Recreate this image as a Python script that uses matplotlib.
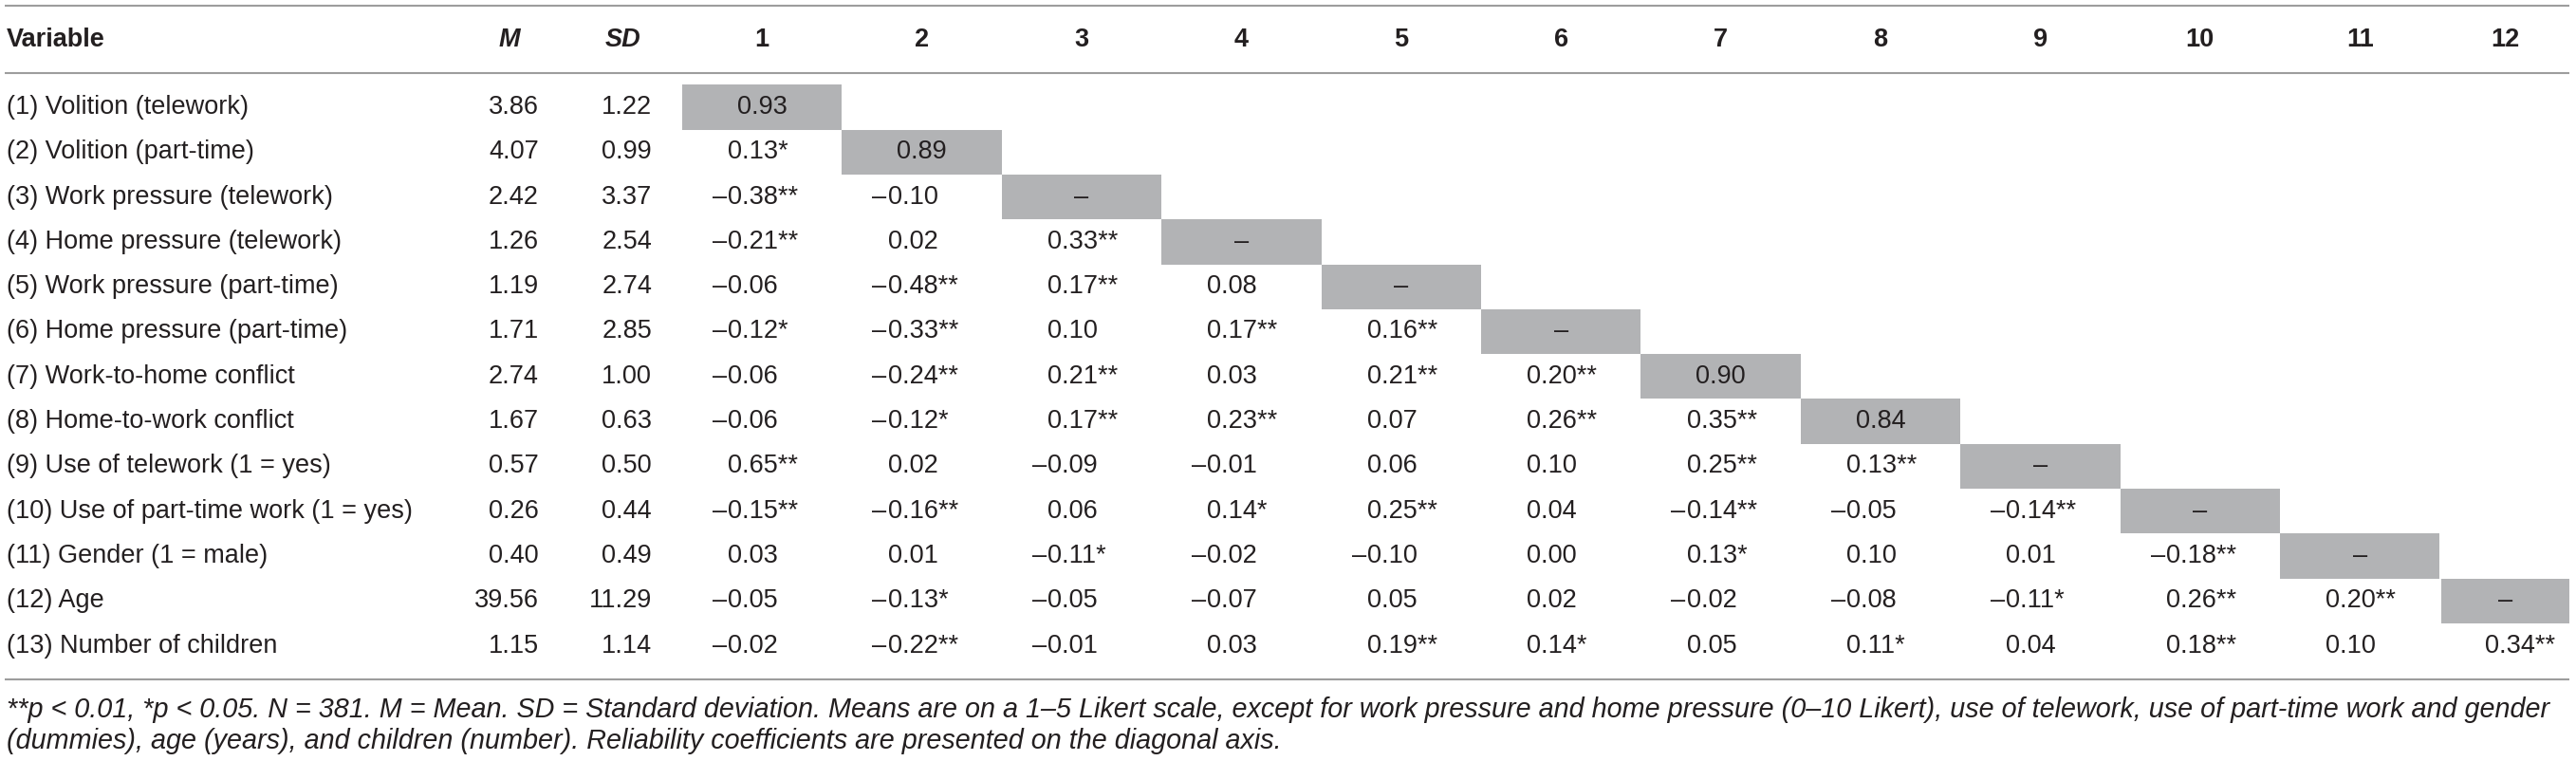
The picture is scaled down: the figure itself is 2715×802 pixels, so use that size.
import matplotlib
matplotlib.use("Agg")
import matplotlib.pyplot as plt
from matplotlib.patches import Rectangle

# ---------------- data ----------------
variables = [
    "(1) Volition (telework)",
    "(2) Volition (part-time)",
    "(3) Work pressure (telework)",
    "(4) Home pressure (telework)",
    "(5) Work pressure (part-time)",
    "(6) Home pressure (part-time)",
    "(7) Work-to-home conflict",
    "(8) Home-to-work conflict",
    "(9) Use of telework (1 = yes)",
    "(10) Use of part-time work (1 = yes)",
    "(11) Gender (1 = male)",
    "(12) Age",
    "(13) Number of children",
]
means = ["3.86", "4.07", "2.42", "1.26", "1.19", "1.71", "2.74", "1.67", "0.57", "0.26", "0.40", "39.56", "1.15"]
sds = ["1.22", "0.99", "3.37", "2.54", "2.74", "2.85", "1.00", "0.63", "0.50", "0.44", "0.49", "11.29", "1.14"]
col_labels = ["1", "2", "3", "4", "5", "6", "7", "8", "9", "10", "11", "12"]
reliability = [0.93, 0.89, None, None, None, None, 0.90, 0.84, None, None, None, None]

corr_lower = [
    [],
    [0.13],
    [-0.38, -0.10],
    [-0.21, 0.02, 0.33],
    [-0.06, -0.48, 0.17, 0.08],
    [-0.12, -0.33, 0.10, 0.17, 0.16],
    [-0.06, -0.24, 0.21, 0.03, 0.21, 0.20],
    [-0.06, -0.12, 0.17, 0.23, 0.07, 0.26, 0.35],
    [0.65, 0.02, -0.09, -0.01, 0.06, 0.10, 0.25, 0.13],
    [-0.15, -0.16, 0.06, 0.14, 0.25, 0.04, -0.14, -0.05, -0.14],
    [0.03, 0.01, -0.11, -0.02, -0.10, 0.00, 0.13, 0.10, 0.01, -0.18],
    [-0.05, -0.13, -0.05, -0.07, 0.05, 0.02, -0.02, -0.08, -0.11, 0.26, 0.20],
    [-0.02, -0.22, -0.01, 0.03, 0.19, 0.14, 0.05, 0.11, 0.04, 0.18, 0.10, 0.34],
]
sig_lower = [
    [],
    [1],
    [2, 0],
    [2, 0, 2],
    [0, 2, 2, 0],
    [1, 2, 0, 2, 2],
    [0, 2, 2, 0, 2, 2],
    [0, 1, 2, 2, 0, 2, 2],
    [2, 0, 0, 0, 0, 0, 2, 2],
    [2, 2, 0, 1, 2, 0, 2, 0, 2],
    [0, 0, 1, 0, 0, 0, 1, 0, 0, 2],
    [0, 1, 0, 0, 0, 0, 0, 0, 1, 2, 2],
    [0, 2, 0, 0, 2, 1, 0, 1, 0, 2, 0, 2],
]

note_lines = [
    "**p < 0.01, *p < 0.05. N = 381. M = Mean. SD = Standard deviation. Means are on a 1\u20135 Likert scale, "
    "except for work pressure and home pressure (0\u201310 Likert), use of telework, use of part-time work and gender",
    "(dummies), age (years), and children (number). Reliability coefficients are presented on the diagonal axis.",
]

# ---------------- layout (pixels) ----------------
W, H = 2715, 802
plt.rcParams["font.family"] = ["Liberation Sans", "DejaVu Sans"]
fig = plt.figure(figsize=(W / 100, H / 100), dpi=100)
ax = fig.add_axes([0, 0, 1, 1])
ax.set_xlim(0, W)
ax.set_ylim(H, 0)
ax.axis("off")

TXT = "#231f20"
GREY = "#b2b3b5"
RULE = "#9d9d9d"
FS = 19.5

row0, rowh = 113.0, 47.3
col_left0, colw = 719.0, 168.4
last_left, last_right = 2573.0, 2708.0
x_var = 7
x_m_right, x_sd_right = 568, 687
x_m_head, x_sd_head = 537, 657
y_head = 42

def col_bounds(k):
    if k == 11:
        return last_left, last_right
    return col_left0 + k * colw, col_left0 + (k + 1) * colw

def digit_start(k):
    if k == 11:
        return 2619
    l, r = col_bounds(k)
    return (l + r) / 2 - 36

# rules
for y in (6, 77, 716):
    ax.plot([5, 2708], [y, y], color=RULE, lw=1.5, solid_capstyle="butt")

# header
ax.text(x_var, y_head, "Variable", ha="left", va="center", fontsize=FS, fontweight="bold", color=TXT)
ax.text(x_m_head, y_head, "M", ha="center", va="center", fontsize=FS, fontweight="bold", style="italic", color=TXT)
ax.text(x_sd_head, y_head, "SD", ha="center", va="center", fontsize=FS, fontweight="bold", style="italic", color=TXT)
for k, lab in enumerate(col_labels):
    l, r = col_bounds(k)
    ax.text((l + r) / 2, y_head, lab, ha="center", va="center", fontsize=FS, fontweight="bold", color=TXT)

# body
for i, name in enumerate(variables):
    yc = row0 + i * rowh
    ax.text(x_var, yc, name, ha="left", va="center", fontsize=FS, color=TXT)
    ax.text(x_m_right, yc, means[i], ha="right", va="center", fontsize=FS, color=TXT)
    ax.text(x_sd_right, yc, sds[i], ha="right", va="center", fontsize=FS, color=TXT)
    for k, v in enumerate(corr_lower[i]):
        x0 = digit_start(k)
        s = f"{abs(v):.2f}" + "*" * sig_lower[i][k]
        ax.text(x0, yc, s, ha="left", va="center", fontsize=FS, color=TXT)
        if v < 0:
            ax.text(x0 - 1, yc, "\u2013", ha="right", va="center", fontsize=FS, color=TXT)
    if i < len(reliability):
        l, r = col_bounds(i)
        ax.add_patch(Rectangle((l, yc - rowh / 2), r - l, rowh, facecolor=GREY, edgecolor="none", zorder=0))
        rel = reliability[i]
        s = "\u2013" if rel is None else f"{rel:.2f}"
        ax.text((l + r) / 2, yc, s, ha="center", va="center", fontsize=FS, color=TXT)

# footnote, sized to span the table width
notes = []
for j, line in enumerate(note_lines):
    notes.append(ax.text(x_var, 748 + j * 33, line, ha="left", va="center", fontsize=18,
                         style="italic", color=TXT))
fig.canvas.draw()
r = fig.canvas.get_renderer()
bb = notes[0].get_window_extent(renderer=r)
scale = (2690 - x_var) / bb.width
for t in notes:
    t.set_fontsize(18 * scale)

fig.savefig("out.png", dpi=100, facecolor="white")
